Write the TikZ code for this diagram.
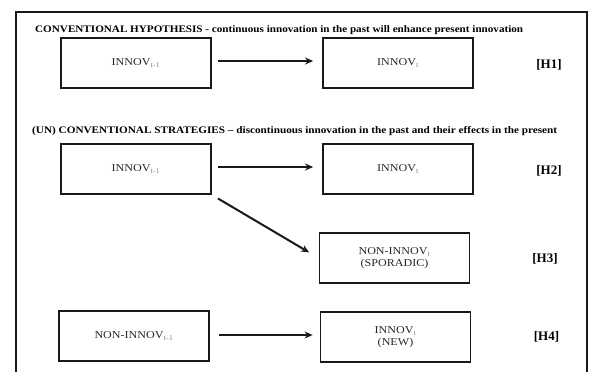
\documentclass[tikz,border=0pt]{standalone}
\usepackage{fontspec}
\setmainfont{Liberation Serif}
\newfontfamily\boxfont[FakeStretch=1.15]{Liberation Serif}
\usetikzlibrary{arrows.meta}
\newcommand{\sbs}[1]{\textsubscript{\color{black!45}#1}}
\begin{document}
\begin{tikzpicture}[x=1pt,y=-1pt,
  box/.style={draw=black!90, line width=1.8pt, minimum width=150pt, minimum height=50pt,
    inner sep=0pt, align=center, font=\boxfont\fontsize{10.5}{12}\selectfont, text=black!85},
  title/.style={anchor=west, inner sep=0pt, font=\bfseries\fontsize{10}{12}\selectfont},
  hlab/.style={font=\bfseries\fontsize{13}{15}\selectfont, inner sep=0pt},
  arr/.style={line width=2pt, draw=black!90, -{Stealth[length=8pt,width=7pt]}}
]
\useasboundingbox (0,0) rectangle (589,372);
\draw[line width=2.4pt, black!90] (16,380) -- (16,12) -- (587,12) -- (587,380);

\node[title] (t1) at (35,30.5) {\resizebox{488pt}{\height}{CONVENTIONAL HYPOTHESIS - continuous innovation in the past will enhance present innovation}};
\node[title] (t2) at (32,131.5) {\resizebox{525pt}{\height}{(UN) CONVENTIONAL STRATEGIES -- discontinuous innovation in the past and their effects in the present}};

\node[box] (b1) at (136,63) {INNOV\sbs{t-1}};
\node[box] (b2) at (398,63) {INNOV\sbs{t}};
\node[box] (b3) at (136,169) {INNOV\sbs{t-1}};
\node[box] (b4) at (398,169) {INNOV\sbs{t}};
\node[box] (b5) at (394.5,258) {NON-INNOV\sbs{t}\\(SPORADIC)};
\node[box] (b6) at (134,336) {NON-INNOV\sbs{t-1}};
\node[box] (b7) at (395.5,337) {INNOV\sbs{t}\\(NEW)};

\node[hlab] (h1) at (549,65) {[H1]};
\node[hlab] (h2) at (549,171) {[H2]};
\node[hlab] (h3) at (545,259) {[H3]};
\node[hlab] (h4) at (546.5,337) {[H4]};

\draw[arr, shorten <=6pt, shorten >=9pt] ([yshift=2pt]b1.east) -- ([yshift=2pt]b2.west);
\draw[arr, shorten <=6pt, shorten >=9pt] ([yshift=2pt]b3.east) -- ([yshift=2pt]b4.west);
\draw[arr, shorten <=7pt, shorten >=11pt] (b3.south east) -- (b5.west);
\draw[arr, shorten <=9pt, shorten >=7pt] ([yshift=1pt]b6.east) -- ([yshift=2pt]b7.west);
\end{tikzpicture}
\end{document}
